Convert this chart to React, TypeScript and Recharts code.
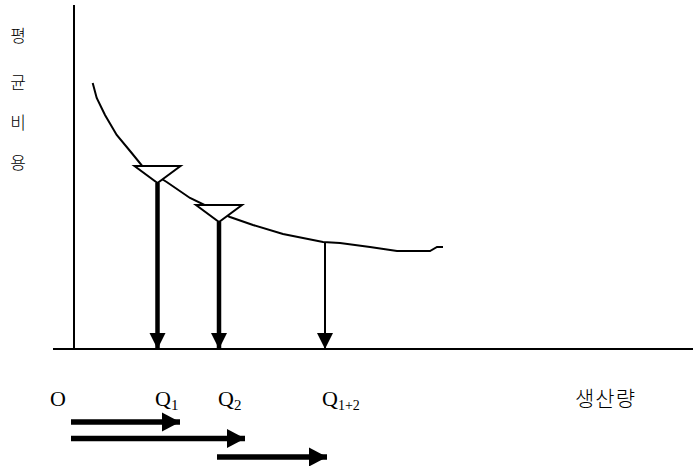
import React from "react";
import {
  ComposedChart,
  Line,
  XAxis,
  YAxis,
  ReferenceLine,
  ReferenceDot,
} from "recharts";

// average cost curve (quantity, average cost)
const costQ = [1.87, 2.27, 3.1, 4.27, 5.77, 6.9, 8.3, 9.27, 11.6, 14.5, 15.6, 17.9, 20.9, 24.9, 26.6, 29.6, 32.3, 35.6, 36.3, 36.9];
const costAC = [26.6, 25.1, 23.4, 21.4, 19.6, 18.2, 17.3, 16.7, 15.1, 13.7, 13.2, 12.4, 11.5, 10.7, 10.6, 10.2, 9.8, 9.8, 10.2, 10.2];

// output levels Q1, Q2, Q1+2 and the cost where each drop line starts
const dropQ = [8.35, 14.5, 25.1];
const dropAC = [16.6, 12.7, 10.7];
const dropFunnel = [true, true, false];

// horizontal output arrows under the axis (from, to)
const spanFrom = [-0.3, -0.3, 14.3];
const spanTo = [10.6, 17.1, 25.3];

// axis text
const xLabelText = ["O", "Q", "Q", "Q", "생산량"];
const xLabelSub = ["", "1", "2", "1+2", ""];
const xLabelQ = [-2.4, 8.1, 14.4, 24.8, 50.1];
const yLabelChars = ["평", "균", "비", "용"];

// layout (chart units, 1 unit = 10px)
const X_DOMAIN: [number, number] = [-7.4, 61.9];
const Y_DOMAIN: [number, number] = [-11.7, 34.9];
const AXIS_TOP = 34.4;
const AXIS_LEFT = -2.1;
const LABEL_LEVEL = -5.7;
const SPAN_LEVELS = [-7.3, -8.95, -10.8];
const Y_LABEL_Q = -5.6;
const Y_LABEL_LEVELS = [30.7, 26.0, 22.0, 18.0];

const costData = costQ.map((q, i) => ({ q, ac: costAC[i] }));

const serif = "'Liberation Serif', 'DejaVu Serif', serif";
const korean = "'Noto Sans CJK KR', sans-serif";

// index 0 = top of drop line (hollow funnel), index 1 = arrow head on the axis
const renderDrop = (funnel: boolean) => (props: any) => {
  const { cx, cy, index } = props;
  if (index === 0) {
    if (!funnel) return <g key={`f-${index}`} />;
    return (
      <polygon
        key={`f-${index}`}
        points={`${cx - 23},${cy - 17} ${cx + 23},${cy - 17} ${cx},${cy}`}
        fill="#fff"
        stroke="#000"
        strokeWidth={2}
      />
    );
  }
  return (
    <polygon
      key={`h-${index}`}
      points={`${cx - 8},${cy - 16} ${cx + 8},${cy - 16} ${cx},${cy}`}
      fill="#000"
    />
  );
};

const renderSpanHead = (props: any) => {
  const { cx, cy, index } = props;
  if (index === 0) return <g key={`s-${index}`} />;
  return (
    <polygon
      key={`s-${index}`}
      points={`${cx - 18},${cy - 9.5} ${cx - 18},${cy + 9.5} ${cx},${cy}`}
      fill="#000"
    />
  );
};

const App: React.FC = () => {
  return (
    <div style={{ position: "absolute", left: 0, top: 0, background: "#fff" }}>
      <ComposedChart
        width={693}
        height={466}
        margin={{ top: 0, right: 0, bottom: 0, left: 0 }}
      >
        <XAxis type="number" dataKey="q" domain={X_DOMAIN} allowDataOverflow hide />
        <YAxis type="number" domain={Y_DOMAIN} allowDataOverflow hide />

        {/* axes */}
        <ReferenceLine
          segment={[{ x: AXIS_LEFT, y: 0 }, { x: X_DOMAIN[1], y: 0 }]}
          stroke="#000"
          strokeWidth={2}
        />
        <ReferenceLine
          segment={[{ x: 0, y: 0 }, { x: 0, y: AXIS_TOP }]}
          stroke="#000"
          strokeWidth={2}
        />

        <Line
          data={costData}
          dataKey="ac"
          type="linear"
          stroke="#000"
          strokeWidth={2}
          dot={false}
          isAnimationActive={false}
        />

        {dropQ.map((q, i) => (
          <Line
            key={`drop-${i}`}
            data={[{ q, ac: dropAC[i] }, { q, ac: 0 }]}
            dataKey="ac"
            type="linear"
            stroke="#000"
            strokeWidth={i < 2 ? 4.5 : 2}
            dot={renderDrop(dropFunnel[i])}
            activeDot={false}
            isAnimationActive={false}
          />
        ))}

        {spanFrom.map((from, i) => (
          <Line
            key={`span-${i}`}
            data={[{ q: from, ac: SPAN_LEVELS[i] }, { q: spanTo[i], ac: SPAN_LEVELS[i] }]}
            dataKey="ac"
            type="linear"
            stroke="#000"
            strokeWidth={5.5}
            dot={renderSpanHead}
            activeDot={false}
            isAnimationActive={false}
          />
        ))}

        {xLabelText.map((t, i) => (
          <ReferenceDot
            key={`xl-${i}`}
            x={xLabelQ[i]}
            y={LABEL_LEVEL}
            r={0}
            ifOverflow="visible"
            shape={(p: any) => (
              <text
                x={p.cx}
                y={p.cy}
                fontFamily={t === "생산량" ? korean : serif}
                fontSize={t === "생산량" ? 21 : 22}
                fontWeight={t === "생산량" ? 300 : 400}
                letterSpacing={t === "생산량" ? 1 : 0}
                fill="#000"
              >
                {t}
                {xLabelSub[i] && (
                  <tspan fontSize={xLabelSub[i].length > 1 ? 14 : 15} dy={4}>
                    {xLabelSub[i]}
                  </tspan>
                )}
              </text>
            )}
          />
        ))}

        {yLabelChars.map((c, i) => (
          <ReferenceDot
            key={`yl-${i}`}
            x={Y_LABEL_Q}
            y={Y_LABEL_LEVELS[i]}
            r={0}
            ifOverflow="visible"
            shape={(p: any) => (
              <text
                x={p.cx}
                y={p.cy}
                fontFamily={korean}
                fontSize={17}
                fontWeight={300}
                textAnchor="middle"
                fill="#000"
              >
                {c}
              </text>
            )}
          />
        ))}
      </ComposedChart>
    </div>
  );
};

export default App;
